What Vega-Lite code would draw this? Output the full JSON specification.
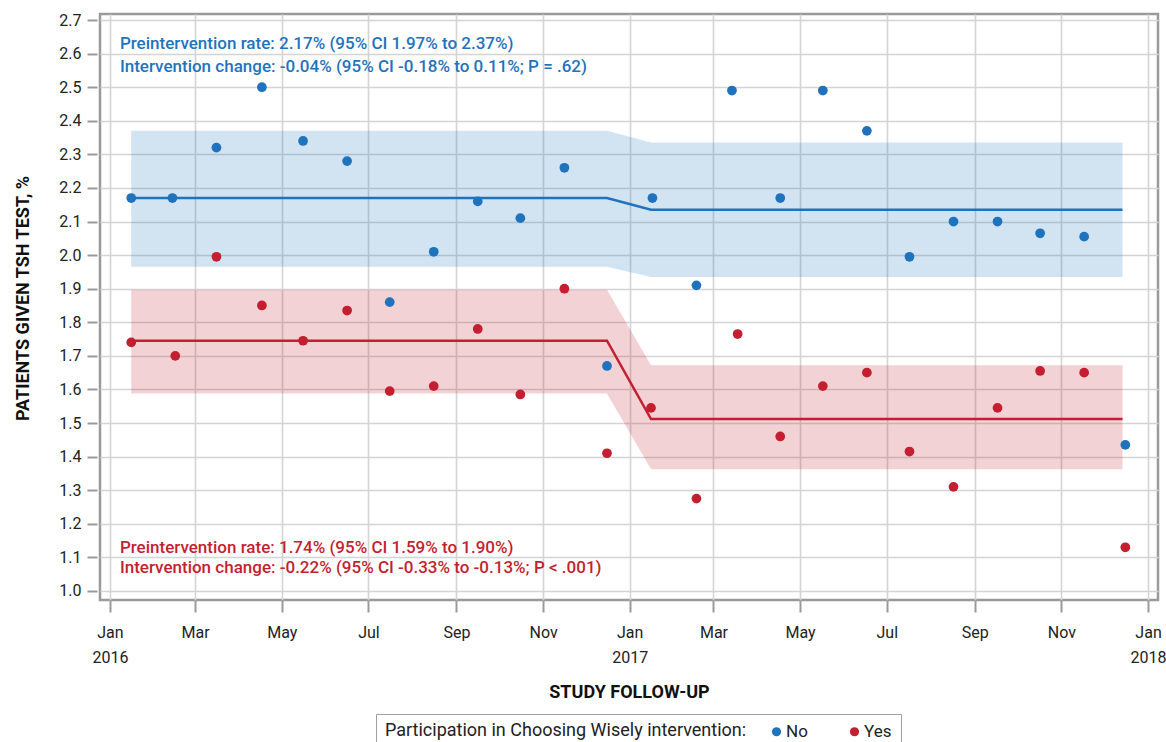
{
  "$schema": "https://vega.github.io/schema/vega-lite/v6.json",
  "autosize": {"type": "none"},
  "padding": {"left": 100, "top": 14, "right": 8, "bottom": 142},
  "width": 1058,
  "height": 586,
  "config": {
    "font": "Roboto",
    "view": {"stroke": "#9a9a9a", "strokeWidth": 2.5},
    "axis": {
      "domain": false,
      "gridColor": "#d4d4d4",
      "gridWidth": 1.6,
      "tickColor": "#9a9a9a",
      "tickWidth": 2,
      "tickSize": 11,
      "labelFont": "Roboto",
      "labelFontSize": 16,
      "labelColor": "#222222",
      "titleFont": "Roboto",
      "titleFontSize": 18,
      "titleFontWeight": "bold",
      "titleColor": "#111111"
    },
    "axisY": {"labelOverlap": false},
    "legend": {
      "orient": "none",
      "legendX": 276,
      "legendY": 700,
      "direction": "horizontal",
      "titleOrient": "left",
      "titleFontWeight": "normal",
      "titleFontSize": 18,
      "titleColor": "#222222",
      "titleFont": "Roboto",
      "titleLimit": 0,
      "labelLimit": 0,
      "labelFont": "Roboto",
      "labelFontSize": 17,
      "labelColor": "#222222",
      "strokeColor": "#a0a0a0",
      "padding": 9,
      "columnPadding": 38,
      "symbolType": "circle",
      "symbolSize": 85,
      "symbolStrokeWidth": 0,
      "symbolOpacity": 1,
      "labelOffset": 1,
      "titlePadding": 21,
      "fillColor": "white"
    }
  },
  "datasets": {
    "pts": [
      {"date": "2016-01-16", "group": "No", "rate": 2.17},
      {"date": "2016-02-14", "group": "No", "rate": 2.17},
      {"date": "2016-03-16", "group": "No", "rate": 2.32},
      {"date": "2016-04-17", "group": "No", "rate": 2.50},
      {"date": "2016-05-16", "group": "No", "rate": 2.34},
      {"date": "2016-06-16", "group": "No", "rate": 2.28},
      {"date": "2016-07-16", "group": "No", "rate": 1.86},
      {"date": "2016-08-16", "group": "No", "rate": 2.01},
      {"date": "2016-09-16", "group": "No", "rate": 2.16},
      {"date": "2016-10-16", "group": "No", "rate": 2.11},
      {"date": "2016-11-16", "group": "No", "rate": 2.26},
      {"date": "2016-12-16", "group": "No", "rate": 1.67},
      {"date": "2017-01-17", "group": "No", "rate": 2.17},
      {"date": "2017-02-17", "group": "No", "rate": 1.91},
      {"date": "2017-03-14", "group": "No", "rate": 2.49},
      {"date": "2017-04-17", "group": "No", "rate": 2.17},
      {"date": "2017-05-17", "group": "No", "rate": 2.49},
      {"date": "2017-06-17", "group": "No", "rate": 2.37},
      {"date": "2017-07-17", "group": "No", "rate": 1.995},
      {"date": "2017-08-17", "group": "No", "rate": 2.10},
      {"date": "2017-09-17", "group": "No", "rate": 2.10},
      {"date": "2017-10-17", "group": "No", "rate": 2.065},
      {"date": "2017-11-17", "group": "No", "rate": 2.055},
      {"date": "2017-12-16", "group": "No", "rate": 1.435},
      {"date": "2016-01-16", "group": "Yes", "rate": 1.74},
      {"date": "2016-02-16", "group": "Yes", "rate": 1.70},
      {"date": "2016-03-16", "group": "Yes", "rate": 1.995},
      {"date": "2016-04-17", "group": "Yes", "rate": 1.85},
      {"date": "2016-05-16", "group": "Yes", "rate": 1.745},
      {"date": "2016-06-16", "group": "Yes", "rate": 1.835},
      {"date": "2016-07-16", "group": "Yes", "rate": 1.595},
      {"date": "2016-08-16", "group": "Yes", "rate": 1.61},
      {"date": "2016-09-16", "group": "Yes", "rate": 1.78},
      {"date": "2016-10-16", "group": "Yes", "rate": 1.585},
      {"date": "2016-11-16", "group": "Yes", "rate": 1.90},
      {"date": "2016-12-16", "group": "Yes", "rate": 1.41},
      {"date": "2017-01-16", "group": "Yes", "rate": 1.545},
      {"date": "2017-02-17", "group": "Yes", "rate": 1.275},
      {"date": "2017-03-18", "group": "Yes", "rate": 1.765},
      {"date": "2017-04-17", "group": "Yes", "rate": 1.46},
      {"date": "2017-05-17", "group": "Yes", "rate": 1.61},
      {"date": "2017-06-17", "group": "Yes", "rate": 1.65},
      {"date": "2017-07-17", "group": "Yes", "rate": 1.415},
      {"date": "2017-08-17", "group": "Yes", "rate": 1.31},
      {"date": "2017-09-17", "group": "Yes", "rate": 1.545},
      {"date": "2017-10-17", "group": "Yes", "rate": 1.655},
      {"date": "2017-11-17", "group": "Yes", "rate": 1.65},
      {"date": "2017-12-16", "group": "Yes", "rate": 1.13}
    ],
    "fit": [
      {"date": "2016-01-16", "group": "No", "fit": 2.17, "lo": 1.965, "hi": 2.37},
      {"date": "2016-12-16", "group": "No", "fit": 2.17, "lo": 1.965, "hi": 2.37},
      {"date": "2017-01-16", "group": "No", "fit": 2.135, "lo": 1.935, "hi": 2.335},
      {"date": "2017-12-14", "group": "No", "fit": 2.135, "lo": 1.935, "hi": 2.335},
      {"date": "2016-01-16", "group": "Yes", "fit": 1.745, "lo": 1.588, "hi": 1.897},
      {"date": "2016-12-16", "group": "Yes", "fit": 1.745, "lo": 1.588, "hi": 1.897},
      {"date": "2017-01-16", "group": "Yes", "fit": 1.512, "lo": 1.362, "hi": 1.672},
      {"date": "2017-12-14", "group": "Yes", "fit": 1.512, "lo": 1.362, "hi": 1.672}
    ],
    "notes": [
      {"group": "No", "line": 1, "text": "Preintervention rate: 2.17% (95% CI 1.97% to 2.37%)"},
      {"group": "No", "line": 2, "text": "Intervention change: -0.04% (95% CI -0.18% to 0.11%; P = .62)"},
      {"group": "Yes", "line": 1, "text": "Preintervention rate: 1.74% (95% CI 1.59% to 1.90%)"},
      {"group": "Yes", "line": 2, "text": "Intervention change: -0.22% (95% CI -0.33% to -0.13%; P < .001)"}
    ]
  },
  "resolve": {"axis": {"y": "shared"}},
  "layer": [
    {
      "data": {"name": "fit"},
      "mark": {"type": "area", "opacity": 0.2},
      "encoding": {
        "x": {
          "field": "date",
          "type": "temporal",
          "scale": {"domain": [{"year": 2015, "month": 12, "date": 25}, {"year": 2018, "month": 1, "date": 8}]},
          "axis": {
            "title": "STUDY FOLLOW-UP",
            "tickCount": {"interval": "month", "step": 2},
            "labelExpr": "month(datum.value) == 0 ? [timeFormat(datum.value, '%b'), timeFormat(datum.value, '%Y')] : timeFormat(datum.value, '%b')",
            "labelLineHeight": 25,
            "labelPadding": 12,
            "tickSize": 12,
            "titlePadding": 18
          }
        },
        "y": {
          "field": "lo",
          "type": "quantitative",
          "scale": {"domain": [0.973, 2.718], "nice": false, "zero": false},
          "axis": {
            "title": "PATIENTS GIVEN TSH TEST, %",
            "tickCount": 18,
            "labelExpr": "format(datum.value, '.1f')",
            "labelOverlap": false,
            "offset": 3,
            "tickSize": 10,
            "labelPadding": 6,
            "titlePadding": 26,
            "titleY": 284
          }
        },
        "y2": {"field": "hi"},
        "color": {
          "field": "group",
          "type": "nominal",
          "scale": {"domain": ["No", "Yes"], "range": ["#1f73bd", "#c41f30"]},
          "legend": {"title": "Participation in Choosing Wisely intervention:"}
        }
      }
    },
    {
      "data": {"name": "fit"},
      "mark": {"type": "line", "strokeWidth": 2.5},
      "encoding": {
        "x": {"field": "date", "type": "temporal"},
        "y": {"field": "fit", "type": "quantitative"},
        "color": {"field": "group", "type": "nominal"}
      }
    },
    {
      "data": {"name": "pts"},
      "mark": {"type": "circle", "size": 95, "opacity": 1},
      "encoding": {
        "x": {"field": "date", "type": "temporal"},
        "y": {"field": "rate", "type": "quantitative"},
        "color": {"field": "group", "type": "nominal"}
      }
    },
    {
      "data": {"name": "notes"},
      "transform": [{"filter": "datum.group == 'No' && datum.line == 1"}],
      "mark": {"type": "text", "align": "left", "baseline": "middle", "fontSize": 17, "fontWeight": 500},
      "encoding": {
        "x": {"datum": {"year": 2016, "month": 1, "date": 8}, "type": "temporal"},
        "y": {"datum": 2.629, "type": "quantitative"},
        "color": {"field": "group", "type": "nominal"},
        "text": {"field": "text"}
      }
    },
    {
      "data": {"name": "notes"},
      "transform": [{"filter": "datum.group == 'No' && datum.line == 2"}],
      "mark": {"type": "text", "align": "left", "baseline": "middle", "fontSize": 17, "fontWeight": 500},
      "encoding": {
        "x": {"datum": {"year": 2016, "month": 1, "date": 8}, "type": "temporal"},
        "y": {"datum": 2.560, "type": "quantitative"},
        "color": {"field": "group", "type": "nominal"},
        "text": {"field": "text"}
      }
    },
    {
      "data": {"name": "notes"},
      "transform": [{"filter": "datum.group == 'Yes' && datum.line == 1"}],
      "mark": {"type": "text", "align": "left", "baseline": "middle", "fontSize": 17, "fontWeight": 500},
      "encoding": {
        "x": {"datum": {"year": 2016, "month": 1, "date": 8}, "type": "temporal"},
        "y": {"datum": 1.128, "type": "quantitative"},
        "color": {"field": "group", "type": "nominal"},
        "text": {"field": "text"}
      }
    },
    {
      "data": {"name": "notes"},
      "transform": [{"filter": "datum.group == 'Yes' && datum.line == 2"}],
      "mark": {"type": "text", "align": "left", "baseline": "middle", "fontSize": 17, "fontWeight": 500},
      "encoding": {
        "x": {"datum": {"year": 2016, "month": 1, "date": 8}, "type": "temporal"},
        "y": {"datum": 1.069, "type": "quantitative"},
        "color": {"field": "group", "type": "nominal"},
        "text": {"field": "text"}
      }
    }
  ]
}
